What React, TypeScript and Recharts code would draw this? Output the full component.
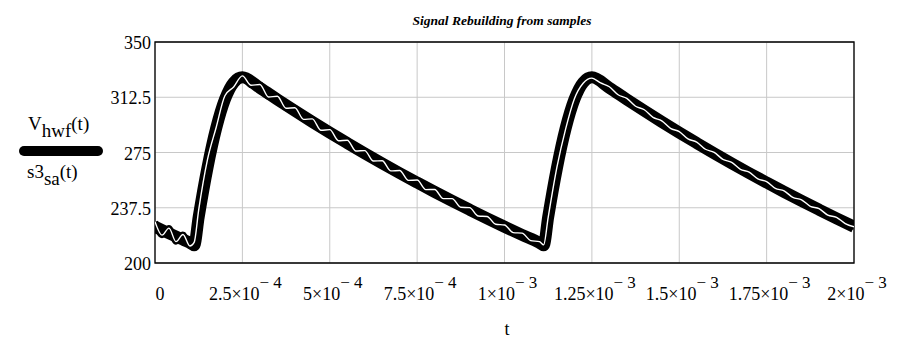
import React from 'react';
import { LineChart, Line, XAxis, YAxis, CartesianGrid, ReferenceArea } from 'recharts';

const FONT = '"Liberation Serif", "Times New Roman", serif';

// axis ticks
const xTicks = [0, 2.5e-4, 5e-4, 7.5e-4, 1e-3, 1.25e-3, 1.5e-3, 1.75e-3, 2e-3];
const xTickMantissa = ['0', '2.5', '5', '7.5', '1', '1.25', '1.5', '1.75', '2'];
const xTickExponent = ['', '4', '4', '4', '3', '3', '3', '3', '3'];
const yTicks = [200, 237.5, 275, 312.5, 350];

// V_hwf(t): half-wave rectified + filtered voltage
const hwfTime = [
    0, 2.5e-5, 5e-5, 7.5e-5, 1e-4, 1.12e-4, 1.25e-4, 1.5e-4, 1.75e-4, 2e-4, 2.25e-4, 2.5e-4,
    3e-4, 3.5e-4, 4e-4, 4.5e-4, 5e-4, 5.5e-4, 6e-4, 6.5e-4, 7e-4, 7.5e-4, 8e-4, 8.5e-4,
    9e-4, 9.5e-4, 1e-3, 1.05e-3, 1.1e-3, 1.112e-3, 1.125e-3, 1.15e-3, 1.175e-3, 1.2e-3,
    1.225e-3, 1.25e-3, 1.3e-3, 1.35e-3, 1.4e-3, 1.45e-3, 1.5e-3, 1.55e-3, 1.6e-3, 1.65e-3,
    1.7e-3, 1.75e-3, 1.8e-3, 1.85e-3, 1.9e-3, 1.95e-3, 2e-3,
];
const hwfValue = [
    224.6, 221.8, 219.1, 216.4, 213.7, 212.0, 231.2, 264.5, 291.4, 311.0, 322.5, 326.0,
    318.9, 311.0, 303.3, 295.8, 288.5, 281.4, 274.4, 267.6, 261.0, 254.6, 248.3, 242.2,
    236.2, 230.3, 224.6, 219.1, 213.7, 212.0, 231.2, 264.5, 291.4, 311.0,
    322.5, 326.0, 318.9, 311.0, 303.3, 295.8, 288.5, 281.4, 274.4, 267.6,
    261.0, 254.6, 248.3, 242.2, 236.2, 230.3, 224.6,
];

// s3_sa(t): signal rebuilt from samples (with ripple)
const saTime = [
    0, 2e-5, 4e-5, 6e-5, 8e-5, 1e-4, 1.12e-4,
    1.25e-4, 1.5e-4, 1.75e-4, 2e-4, 2.25e-4, 2.5e-4,
    2.75e-4, 3e-4, 3.25e-4, 3.5e-4, 3.75e-4, 4e-4, 4.25e-4, 4.5e-4, 4.75e-4, 5e-4,
    5.25e-4, 5.5e-4, 5.75e-4, 6e-4, 6.25e-4, 6.5e-4, 6.75e-4, 7e-4, 7.25e-4, 7.5e-4,
    7.75e-4, 8e-4, 8.25e-4, 8.5e-4, 8.75e-4, 9e-4, 9.25e-4, 9.5e-4, 9.75e-4, 1e-3,
    1.025e-3, 1.05e-3, 1.075e-3, 1.1e-3, 1.112e-3,
    1.125e-3, 1.15e-3, 1.175e-3, 1.2e-3, 1.225e-3, 1.25e-3,
    1.275e-3, 1.3e-3, 1.325e-3, 1.35e-3, 1.375e-3, 1.4e-3, 1.425e-3, 1.45e-3, 1.475e-3, 1.5e-3,
    1.525e-3, 1.55e-3, 1.575e-3, 1.6e-3, 1.625e-3, 1.65e-3, 1.675e-3, 1.7e-3, 1.725e-3, 1.75e-3,
    1.775e-3, 1.8e-3, 1.825e-3, 1.85e-3, 1.875e-3, 1.9e-3, 1.925e-3, 1.95e-3, 1.975e-3, 2e-3,
];
const saValue = [
    228.0, 218.9, 223.7, 214.5, 219.3, 211.5, 214.0,
    236.0, 270.0, 292.0, 313.5, 319.5, 327.0,
    320.6, 321.2, 312.7, 313.2, 305.0, 305.4, 297.5, 297.8, 290.1, 290.5,
    283.0, 283.3, 276.0, 276.3, 269.2, 269.4, 262.5, 262.8, 256.1, 256.3,
    249.8, 249.9, 243.7, 243.7, 237.8, 237.6, 231.9, 231.6, 226.3, 225.8,
    220.6, 220.3, 215.2, 214.5, 212.3,
    231.0, 265.0, 291.0, 311.5, 322.0, 325.5,
    322.2, 319.6, 314.2, 311.7, 306.4, 304.0, 298.8, 296.5, 291.4, 289.2,
    284.2, 282.1, 277.2, 275.1, 270.3, 268.3, 263.6, 261.7, 257.1, 255.3,
    250.7, 249.0, 244.5, 242.9, 238.5, 236.9, 232.5, 231.0, 226.8, 224.6,
];

const hwfData = hwfTime.map((t, i) => ({ t, v: hwfValue[i] }));
const saData = saTime.map((t, i) => ({ t, v: saValue[i] }));

const XTick = (props: any) => {
    const { x, y, payload } = props;
    const i = xTicks.indexOf(payload.value);
    const m = xTickMantissa[i];
    const e = xTickExponent[i];
    return (
        <text x={x + (i === 0 ? 5 : 3)} y={y + 37} textAnchor="middle" fontFamily={FONT} fontSize={18} fill="#000">
            {e ? (
                <>
                    <tspan>{m}×10</tspan>
                    <tspan dy={-12} fontSize={17}>{'\u2212 ' + e}</tspan>
                </>
            ) : m}
        </text>
    );
};

const YTick = (props: any) => {
    const { x, y, payload } = props;
    return (
        <text x={x - 4} y={y + 7} textAnchor="end" fontFamily={FONT} fontSize={18} fill="#000">
            {payload.value}
        </text>
    );
};

const App: React.FC = () => {
    return (
        <div style={{ position: 'absolute', left: 0, top: 0, width: 910, height: 342, background: '#fff' }}>
            <LineChart width={910} height={342} margin={{ top: 42, right: 56, left: 95, bottom: 49 }}>
                <CartesianGrid stroke="#c8c8c8" strokeWidth={1} />
                <XAxis
                    type="number"
                    dataKey="t"
                    domain={[0, 2e-3]}
                    ticks={xTicks}
                    height={30}
                    tickSize={0}
                    tickMargin={0}
                    tickLine={false}
                    axisLine={false}
                    tick={<XTick />}
                    interval={0}
                    allowDataOverflow
                />
                <YAxis
                    type="number"
                    domain={[200, 350]}
                    ticks={yTicks}
                    width={60}
                    tickSize={0}
                    tickMargin={0}
                    tickLine={false}
                    axisLine={false}
                    tick={<YTick />}
                    interval={0}
                    allowDataOverflow
                />
                <ReferenceArea x1={0} x2={2e-3} y1={200} y2={350} fill="none" stroke="#000" strokeWidth={1.3} ifOverflow="visible" />
                <Line data={hwfData} dataKey="v" type="monotone" stroke="#000" strokeWidth={12} dot={false} activeDot={false} isAnimationActive={false} />
                <Line data={saData} dataKey="v" type="monotone" stroke="#000" strokeWidth={6} dot={false} activeDot={false} isAnimationActive={false} />
                <Line data={saData} dataKey="v" type="monotone" stroke="#fff" strokeWidth={1.4} dot={false} activeDot={false} isAnimationActive={false} />
            </LineChart>
            <svg width={910} height={342} style={{ position: 'absolute', left: 0, top: 0, pointerEvents: 'none' }}>
                <text x={502} y={25} textAnchor="middle" fontFamily={FONT} fontSize={13.5} fontWeight="bold" fontStyle="italic">
                    Signal Rebuilding from samples
                </text>
                <text x={28} y={129.5} fontFamily={FONT} fontSize={19}>
                    <tspan>V</tspan>
                    <tspan dy={7}>hwf</tspan>
                    <tspan dy={-7}>(t)</tspan>
                </text>
                <line x1={24} y1={151} x2={98} y2={151} stroke="#000" strokeWidth={10} strokeLinecap="round" />
                <text x={27} y={178} fontFamily={FONT} fontSize={19}>
                    <tspan>s3</tspan>
                    <tspan dy={7}>sa</tspan>
                    <tspan dy={-7}>(t)</tspan>
                </text>
                <text x={507} y={335} textAnchor="middle" fontFamily={FONT} fontSize={18}>t</text>
            </svg>
        </div>
    );
};

export default App;
